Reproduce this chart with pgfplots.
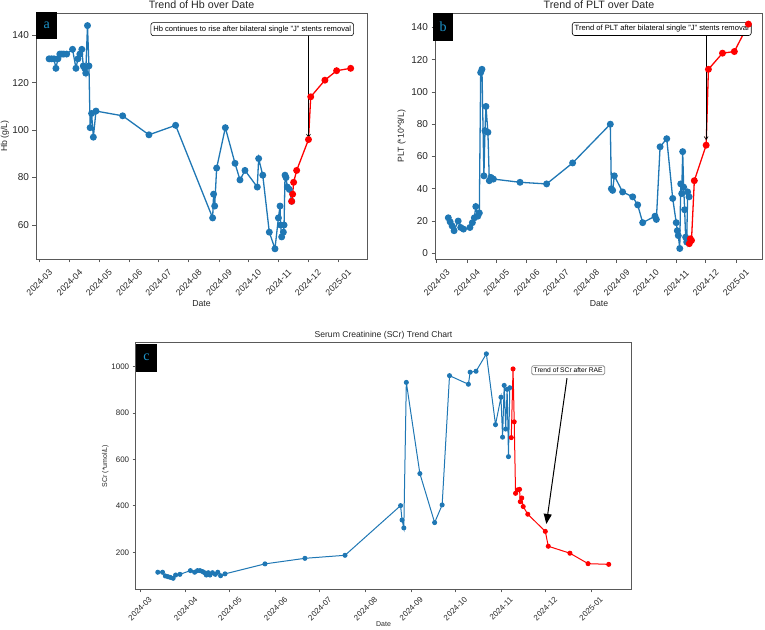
\documentclass[border=0pt]{standalone}
\usepackage{pgfplots}
\pgfplotsset{compat=1.18}
\usepackage{fontspec}
\setmainfont{Liberation Sans}
\newfontfamily\seriff{Liberation Serif}
\usetikzlibrary{arrows.meta}
\definecolor{mblue}{RGB}{31,119,180}
\definecolor{mred}{RGB}{255,0,0}
\definecolor{lettc}{RGB}{30,150,205}
\pgfplotsset{
  common/.style={
    scale only axis, anchor=south west,
    axis line style={draw=black!65, line width=0.8pt},
    tick style={draw=black!65, line width=0.8pt},
    tick align=outside, tick pos=left,
    /pgf/number format/assume math mode=true,
    /pgf/number format/1000 sep={},
    xtick={0,31,61,92,122,153,184,214,245,275,306},
    xticklabels={2024-03,2024-04,2024-05,2024-06,2024-07,2024-08,2024-09,2024-10,2024-11,2024-12,2025-01},
  },
  bigp/.style={common, major tick length=3.5pt,
    y tick label style={font=\fontsize{10}{10}\selectfont, text=black!85},
    x tick label style={font=\fontsize{8.8}{8.8}\selectfont, text=black!85, yshift=-20pt, rotate=45, anchor=center}},
  smallp/.style={common, major tick length=3pt,
    y tick label style={font=\fontsize{8}{8}\selectfont, text=black!85},
    x tick label style={font=\fontsize{8}{8}\selectfont, text=black!85, yshift=-16.5pt, rotate=45, anchor=center}},
}
\begin{document}
\begin{tikzpicture}[x=1pt,y=1pt]
\useasboundingbox (0,0) rectangle (765,629);
% ---------------- panel a
\begin{axis}[bigp, at={(36pt,370pt)}, width=331pt, height=246pt,
  xmin=-3.4, xmax=335.4, ymin=45.7, ymax=149.3, ytick={60,80,100,120,140}]
\addplot[mblue, line width=1.3pt, mark=*, mark size=2.8pt] coordinates {
(10,130)(12.5,130)(15,130)(17,126)(19,130)(21,132)(23,132)(25,132)(28,132)(34,134)
(37.5,126)(39.5,130)(41.5,132)(43.5,134)(45,127)(46.5,126)(47.5,124)(49.3,144)(50.8,127)(52,101)
(53.5,107)(55.3,97)(58,108)(85.3,106)(112.2,98)(139.5,102)(177.4,63)(178.4,73)(179.5,68)(181.5,84)
(190.4,101)(200.3,86)(205.4,79)(210.5,83)(223.1,76)(224.5,88)(228.7,81)(235.4,57)(241.2,50)(244.7,63)
(246.4,68)(247,60)(248.1,55)(249.8,57)(250.5,60)(251.5,81)(252.5,80)(253.9,76)(255.9,75)(258.3,70)};
\addplot[mred, line width=1.3pt, mark=*, mark size=2.8pt] coordinates {
(258.3,70)(259.3,73)(260.3,78)(263.4,83)(275.5,96)(277.8,114)(292.3,121)(304.3,125)(318.7,126)};
\draw[-{Straight Barb[length=3pt,width=4pt]}, black, line width=0.6pt] (axis cs:275.5,139.9) -- (axis cs:275.5,96.8);
\node[draw=black, fill=white, rounded corners=2.5pt, inner xsep=2.5pt, inner ysep=3pt, line width=0.6pt,
  font=\fontsize{7.6}{7.6}\selectfont] at (axis cs:217.9,142.5) {Hb continues to rise after bilateral single "J" stents removal};
\end{axis}
% ---------------- panel b
\begin{axis}[bigp, at={(435pt,369.7pt)}, width=327.7pt, height=246pt,
  xmin=-1.7, xmax=333.3, ymin=-3.7, ymax=148.7, ytick={0,20,40,60,80,100,120,140}]
\addplot[mblue, line width=1.3pt, mark=*, mark size=2.8pt] coordinates {
(11.9,22)(13.8,19.5)(15.8,17)(17.8,14)(22,20)(24.6,16)(27.4,15)(34,16)(36.5,19)(38.5,22)
(40,29)(42,23)(43.6,25)(45,112)(46.3,114)(48.3,48)(49.4,76)(50.4,91)(52.4,75)(53.8,45)
(55.5,47)(58,46)(85.2,44)(112.4,43)(139,56)(177.5,80)(178.6,40)(179.9,39)(181.6,48)(190.1,38)
(200.4,35)(205.5,30)(210.6,19)(223.2,23)(224.6,21)(228.4,66)(235.2,71)(241.3,34)(244.9,19)(246,14)
(247,11)(248.5,3)(249.5,43)(250.5,37)(251.5,63)(252.5,41)(253.5,27)(254.5,10)(255.6,7)(256.6,38)(258,35)};
\addplot[mred, line width=1.3pt, mark=*, mark size=2.8pt] coordinates {
(258.3,6)(259.3,9)(260.5,8)(263.4,45)(275.5,67)(277.8,114)(292.2,124)(304.3,125)(318.7,142)};
\draw[-{Straight Barb[length=3pt,width=4pt]}, black, line width=0.6pt] (axis cs:275.5,134.6) -- (axis cs:275.5,70.2);
\node[draw=black, fill=white, rounded corners=2.5pt, inner xsep=2.5pt, inner ysep=3pt, line width=0.6pt,
  font=\fontsize{7.6}{7.6}\selectfont] at (axis cs:230.1,139) {Trend of PLT after bilateral single "J" stents removal};
\end{axis}
% ---------------- panel c
\begin{axis}[smallp, at={(135.7pt,39.7pt)}, width=495.7pt, height=246.6pt,
  xmin=-2.9, xmax=333.4, ymin=40.5, ymax=1103, ytick={200,400,600,800,1000}]
\addplot[mblue, line width=1pt, mark=*, mark size=2pt] coordinates {
(12.1,114)(15.3,114)(17.2,98)(18.9,95)(20.5,92)(22.5,88)(24.2,102)(27.1,105)(34.2,121)(37.1,114)
(39,121)(40.7,121)(42.4,117)(43.8,112)(45,102)(46.3,112)(47.5,102)(49.2,112)(51.1,105)(52.8,114)
(54.7,99)(57.7,107)(84.8,150)(111.9,174)(139.1,187)(176.8,401)(177.8,339)(179,305)(180.7,932)(189.9,539)
(199.9,328)(205,404)(210,961)(222.8,924)(224,976)(228,980)(235,1055)(241.2,750)(244.9,868)(246,696)
(247.1,919)(248.1,731)(249.1,902)(250,612)(250.9,909)};
\addplot[mred, line width=1pt, mark=*, mark size=2pt] coordinates {
(251.9,694)(253.1,990)(253.9,762)(254.8,454)(256.3,469)(257.5,471)(258,418)(259,434)(260,397)(263.1,364)
(275,290)(277,226)(291.7,196)(304,151)(318,148)};
\draw[-{Triangle[length=10pt,width=8pt]}, black, line width=1pt] (axis cs:289.7,950) -- (axis cs:275.7,322);
\node[draw=black!45, fill=white, rounded corners=1.5pt, inner sep=2pt, line width=0.8pt,
  font=\fontsize{6.7}{6.7}\selectfont] at (axis cs:290.5,984.5) {Trend of SCr after RAE};
\end{axis}
% ---------------- titles & labels
\node[font=\fontsize{10.7}{10.7}\selectfont, text=black!85] at (201.5,624) {Trend of Hb over Date};
\node[font=\fontsize{8.7}{8.7}\selectfont, text=black!85] at (201.5,325) {Date};
\node[font=\fontsize{8.7}{8.7}\selectfont, text=black!85, rotate=90] at (5,493) {Hb (g/L)};
\node[font=\fontsize{10.7}{10.7}\selectfont, text=black!85] at (599,624) {Trend of PLT over Date};
\node[font=\fontsize{8.7}{8.7}\selectfont, text=black!85] at (599,325) {Date};
\node[font=\fontsize{8.7}{8.7}\selectfont, text=black!85, rotate=90] at (401.7,492.7) {PLT (*10\textasciicircum 9/L)};
\node[font=\fontsize{8.6}{8.6}\selectfont, text=black!85] at (383.5,293.3) {Serum Creatinine (SCr) Trend Chart};
\node[font=\fontsize{7}{7}\selectfont, text=black!85] at (383.5,4.5) {Date};
\node[font=\fontsize{7}{7}\selectfont, text=black!85, rotate=90] at (105.4,163) {SCr (*umol/L)};
% letter boxes
\fill[black] (36,589.7) rectangle (57.3,617.3);
\node[font=\seriff\fontsize{14}{14}\selectfont, text=lettc] at (46.7,604) {a};
\fill[black] (432.7,588.3) rectangle (453.3,615.7);
\node[font=\seriff\fontsize{14}{14}\selectfont, text=lettc] at (443,602.5) {b};
\fill[black] (135.7,257.3) rectangle (157.1,285);
\node[font=\seriff\fontsize{14}{14}\selectfont, text=lettc] at (146.4,271.5) {c};
\end{tikzpicture}
\end{document}
